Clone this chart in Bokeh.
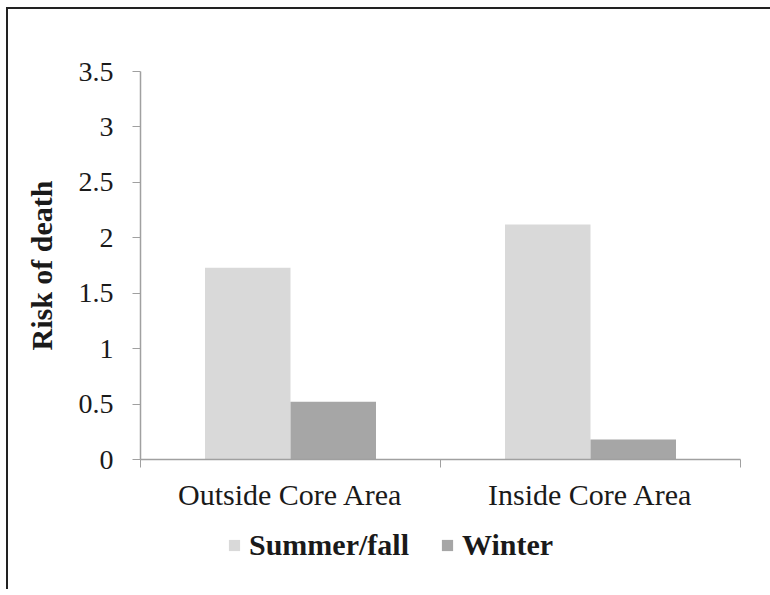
from bokeh.plotting import figure
from bokeh.layouts import column
from bokeh.models import FixedTicker, Legend, LegendItem, Range1d, ColumnDataSource
from bokeh.embed import file_html
from bokeh.resources import INLINE

categories = ["Outside Core Area", "Inside Core Area"]
series_names = ["Summer/fall", "Winter"]
summer_fall = [1.73, 2.12]
winter = [0.52, 0.18]
y_ticks = [0, 0.5, 1, 1.5, 2, 2.5, 3, 3.5]
y_tick_labels = ["0", "0.5", "1", "1.5", "2", "2.5", "3", "3.5"]
colors = ["#d9d9d9", "#a6a6a6"]

FONT = "Liberation Serif"
TEXT = "#1a1a1a"
AXIS = "#a0a0a0"

n = len(categories)
centers = [i + 0.5 for i in range(n)]
bar_w = 0.285
off = 0.1425

src = ColumnDataSource(dict(
    xs=[c - off for c in centers],
    xw=[c + off for c in centers],
    summer=summer_fall,
    winter=winter,
))

p = figure(width=762, height=520, output_backend="svg", toolbar_location=None,
           x_range=Range1d(0, n), y_range=Range1d(0, 3.5),
           min_border_left=132, min_border_top=62, min_border_right=30,
           min_border_bottom=70, outline_line_color=None)

p.vbar(x="xs", top="summer", width=bar_w, source=src, fill_color=colors[0], line_color=None)
p.vbar(x="xw", top="winter", width=bar_w, source=src, fill_color=colors[1], line_color=None)

p.xgrid.visible = False
p.ygrid.visible = False

xa = p.xaxis[0]
xa.ticker = FixedTicker(ticks=centers, minor_ticks=[float(i) for i in range(n + 1)])
xa.major_label_overrides = {c: lab for c, lab in zip(centers, categories)}
xa.major_tick_out = 0
xa.major_tick_in = 0
xa.minor_tick_out = 8
xa.minor_tick_in = 0
xa.minor_tick_line_color = AXIS
xa.axis_line_color = AXIS
xa.axis_line_width = 1.5
xa.major_label_text_font = FONT
xa.major_label_text_font_size = "30px"
xa.major_label_text_color = TEXT
xa.major_label_standoff = 10

ya = p.yaxis[0]
ya.ticker = FixedTicker(ticks=y_ticks, minor_ticks=[])
ya.major_label_overrides = {t: lab for t, lab in zip(y_ticks, y_tick_labels)}
ya.major_tick_out = 8
ya.major_tick_in = 0
ya.major_tick_line_color = AXIS
ya.minor_tick_line_color = None
ya.axis_line_color = AXIS
ya.axis_line_width = 1.5
ya.major_label_text_font = FONT
ya.major_label_text_font_size = "28px"
ya.major_label_text_color = TEXT
ya.major_label_standoff = 19
ya.axis_label = "Risk of death"
ya.axis_label_text_font = FONT
ya.axis_label_text_font_style = "bold"
ya.axis_label_text_font_size = "30px"
ya.axis_label_text_color = TEXT
ya.axis_label_standoff = 18

# legend strip below the chart; its renderers are zero-height, so only the swatches show
leg = figure(width=762, height=60, output_backend="svg", toolbar_location=None,
             x_axis_type=None, y_axis_type=None, min_border=0,
             outline_line_color=None, x_range=Range1d(0, n), y_range=Range1d(0, 1))
leg.xgrid.visible = False
leg.ygrid.visible = False
lr1 = leg.vbar(x="xs", top=0, bottom=0, width=0, source=src, fill_color=colors[0], line_color=None)
lr2 = leg.vbar(x="xw", top=0, bottom=0, width=0, source=src, fill_color=colors[1], line_color=None)

legend = Legend(items=[LegendItem(label=series_names[0], renderers=[lr1]),
                       LegendItem(label=series_names[1], renderers=[lr2])],
                orientation="horizontal", location=(87, 27),
                glyph_width=14, glyph_height=14, label_standoff=8, spacing=31,
                padding=0, margin=0, border_line_color=None, background_fill_alpha=0,
                label_text_font=FONT, label_text_font_style="bold",
                label_text_font_size="30px", label_text_color=TEXT)
leg.add_layout(legend)

layout = column(p, leg, spacing=0,
                styles={"margin-left": "6px", "margin-top": "7px",
                        "border-left": "2px solid #222222", "border-top": "2px solid #222222"})

open("out.html", "w").write(file_html(layout, INLINE))
